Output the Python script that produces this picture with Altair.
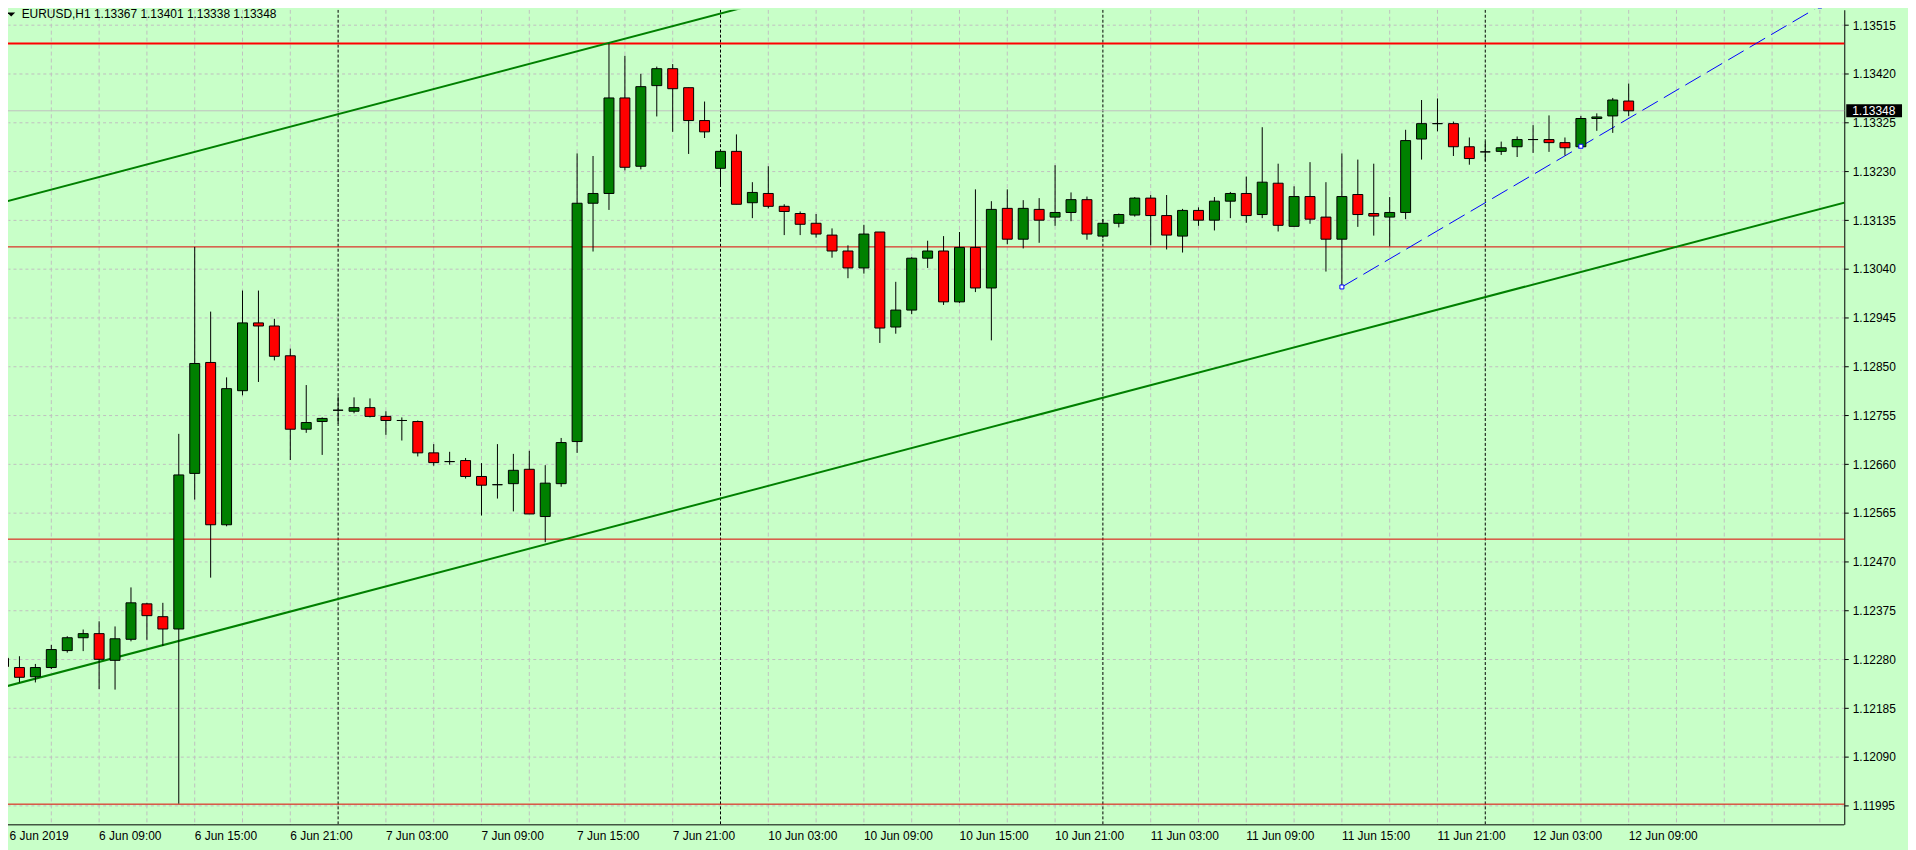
import altair as alt
import pandas as pd

# ---------------- data ----------------
header_text = "EURUSD,H1  1.13367 1.13401 1.13338 1.13348"

opens = [1.12282, 1.12264, 1.12246, 1.12264, 1.12297, 1.12322, 1.12330, 1.12278, 1.12319, 1.12388,
         1.12363, 1.12339, 1.12642, 1.12858, 1.12542, 1.12803, 1.12935, 1.12929, 1.12871, 1.12728,
         1.12743, 1.12765, 1.12763, 1.12770, 1.12753, 1.12745, 1.12743, 1.12682, 1.12665, 1.12667,
         1.12636, 1.12620, 1.12622, 1.12650, 1.12558, 1.12622, 1.12704, 1.13168, 1.13187, 1.13373,
         1.13240, 1.13397, 1.13430, 1.13393, 1.13329, 1.13236, 1.13269, 1.13169, 1.13187, 1.13162,
         1.13148, 1.13129, 1.13106, 1.13075, 1.13042, 1.13112, 1.12927, 1.12960, 1.13061, 1.13075,
         1.12976, 1.13082, 1.13003, 1.13158, 1.13098, 1.13156, 1.13141, 1.13150, 1.13175, 1.13104,
         1.13129, 1.13145, 1.13178, 1.13144, 1.13104, 1.13154, 1.13135, 1.13172, 1.13187, 1.13146,
         1.13207, 1.13123, 1.13181, 1.13141, 1.13098, 1.13185, 1.13148, 1.13141, 1.13150, 1.13293,
         1.13323, 1.13323, 1.13278, 1.13268, 1.13269, 1.13278, 1.13292, 1.13292, 1.13286, 1.13278,
         1.13333, 1.13338, 1.13367]
highs = [1.12319, 1.12286, 1.12271, 1.12308, 1.12325, 1.12338, 1.12354, 1.12344, 1.12420, 1.12390,
         1.12390, 1.12719, 1.13083, 1.12957, 1.12829, 1.12998, 1.12998, 1.12943, 1.12885, 1.12814,
         1.12751, 1.12792, 1.12790, 1.12788, 1.12763, 1.12751, 1.12745, 1.12699, 1.12684, 1.12672,
         1.12662, 1.12699, 1.12680, 1.12686, 1.12658, 1.12711, 1.13265, 1.13260, 1.13479, 1.13455,
         1.13420, 1.13434, 1.13439, 1.13393, 1.13366, 1.13269, 1.13302, 1.13209, 1.13240, 1.13166,
         1.13152, 1.13147, 1.13119, 1.13086, 1.13126, 1.13112, 1.13015, 1.13063, 1.13095, 1.13104,
         1.13112, 1.13195, 1.13172, 1.13195, 1.13174, 1.13178, 1.13242, 1.13189, 1.13181, 1.13137,
         1.13148, 1.13180, 1.13184, 1.13184, 1.13157, 1.13160, 1.13180, 1.13190, 1.13220, 1.13316,
         1.13245, 1.13201, 1.13248, 1.13209, 1.13265, 1.13253, 1.13245, 1.13180, 1.13311, 1.13369,
         1.13372, 1.13327, 1.13296, 1.13288, 1.13288, 1.13298, 1.13320, 1.13339, 1.13296, 1.13338,
         1.13343, 1.13373, 1.13401]
lows = [1.12261, 1.12235, 1.12235, 1.12261, 1.12293, 1.12296, 1.12222, 1.12221, 1.12315, 1.12318,
        1.12306, 1.11999, 1.12591, 1.12439, 1.12539, 1.12794, 1.12820, 1.12862, 1.12668, 1.12721,
        1.12678, 1.12739, 1.12759, 1.12751, 1.12717, 1.12706, 1.12675, 1.12657, 1.12659, 1.12632,
        1.12560, 1.12593, 1.12568, 1.12563, 1.12508, 1.12616, 1.12682, 1.13074, 1.13155, 1.13232,
        1.13234, 1.13337, 1.13307, 1.13264, 1.13295, 1.13201, 1.13166, 1.13139, 1.13158, 1.13106,
        1.13106, 1.13101, 1.13062, 1.13022, 1.13031, 1.12896, 1.12914, 1.12952, 1.13042, 1.12970,
        1.12974, 1.12995, 1.12901, 1.13088, 1.13080, 1.13091, 1.13124, 1.13133, 1.13097, 1.13100,
        1.13121, 1.13142, 1.13086, 1.13078, 1.13072, 1.13124, 1.13115, 1.13139, 1.13130, 1.13139,
        1.13113, 1.13123, 1.13128, 1.13035, 1.13005, 1.13122, 1.13105, 1.13084, 1.13137, 1.13253,
        1.13308, 1.13260, 1.13243, 1.13250, 1.13262, 1.13258, 1.13266, 1.13268, 1.13261, 1.13278,
        1.13309, 1.13305, 1.13338]
closes = [1.12266, 1.12245, 1.12264, 1.12299, 1.12322, 1.12330, 1.12280, 1.12320, 1.12390, 1.12365,
          1.12339, 1.12639, 1.12856, 1.12542, 1.12807, 1.12935, 1.12929, 1.12870, 1.12728, 1.12741,
          1.12749, 1.12765, 1.12770, 1.12753, 1.12745, 1.12745, 1.12682, 1.12663, 1.12665, 1.12636,
          1.12619, 1.12620, 1.12648, 1.12563, 1.12623, 1.12702, 1.13168, 1.13187, 1.13373, 1.13238,
          1.13395, 1.13430, 1.13391, 1.13329, 1.13307, 1.13269, 1.13166, 1.13189, 1.13162, 1.13152,
          1.13127, 1.13108, 1.13075, 1.13042, 1.13108, 1.12925, 1.12960, 1.13061, 1.13075, 1.12976,
          1.13082, 1.13003, 1.13156, 1.13098, 1.13158, 1.13135, 1.13150, 1.13175, 1.13108, 1.13129,
          1.13146, 1.13178, 1.13144, 1.13106, 1.13154, 1.13135, 1.13172, 1.13187, 1.13144, 1.13209,
          1.13125, 1.13181, 1.13137, 1.13098, 1.13181, 1.13146, 1.13143, 1.13150, 1.13290, 1.13323,
          1.13323, 1.13278, 1.13255, 1.13268, 1.13276, 1.13292, 1.13292, 1.13286, 1.13276, 1.13333,
          1.13336, 1.13369, 1.13348]

x_label_bars = [0, 6, 12, 18, 24, 30, 36, 42, 48, 54, 60, 66, 72, 78, 84, 90, 96, 102]
x_labels = ["6 Jun 2019", "6 Jun 09:00", "6 Jun 15:00", "6 Jun 21:00", "7 Jun 03:00",
            "7 Jun 09:00", "7 Jun 15:00", "7 Jun 21:00", "10 Jun 03:00", "10 Jun 09:00",
            "10 Jun 15:00", "10 Jun 21:00", "11 Jun 03:00", "11 Jun 09:00", "11 Jun 15:00",
            "11 Jun 21:00", "12 Jun 03:00", "12 Jun 09:00"]
y_ticks = [1.11995, 1.12090, 1.12185, 1.12280, 1.12375, 1.12470, 1.12565, 1.12660, 1.12755,
           1.12850, 1.12945, 1.13040, 1.13135, 1.13230, 1.13325, 1.13420, 1.13515]

grid_bars = list(range(0, 117, 3))
day_sep_bars = [21, 45, 69, 93]
level_main = [1.13479]
levels_other = [1.13083, 1.12514, 1.11998]
channel_lower_x = [0, 116]
channel_lower_y = [1.12226, 1.13173]
channel_upper_x = [0, 116]
channel_upper_y = [1.13170, 1.14117]
trend_x = [84, 114]
trend_y = [1.13005, 1.13552]
anchor_x = [84, 99, 114]
anchor_y = [1.13005, 1.13279, 1.13552]

# ---------------- styling ----------------
BG = "#C8FFC8"
GRID = "#C0C0C0"
FONT = "Liberation Sans"
W, H = 1844, 818
X0 = 0.28125

xscale = alt.Scale(domain=[X0, 115.53125], nice=False, zero=False, padding=0)
yscale = alt.Scale(domain=[1.119587, 1.135447], nice=False, zero=False, padding=0)
yaxis = alt.Axis(orient="right", values=y_ticks, format=".5f", title=None,
                 labelFont=FONT, labelFontSize=12, labelColor="black", labelPadding=4,
                 tickSize=4, tickColor="black", domainColor="black", labelOverlap=False,
                 labelFlush=False, grid=True, gridColor=GRID, gridDash=[3, 3], gridWidth=1)


def X(f):
    return alt.X(f, type="quantitative", scale=xscale, axis=None)


def Y(f):
    return alt.Y(f, type="quantitative", scale=yscale, axis=yaxis)


candles = pd.DataFrame({"i": list(range(len(opens))), "open": opens, "high": highs,
                        "low": lows, "close": closes})
candles["dir"] = ["up" if c >= o else "down" for o, c in zip(opens, closes)]

grid_df = pd.DataFrame({"b": [b for b in grid_bars if b not in day_sep_bars]})
sep_df = pd.DataFrame({"b": day_sep_bars})
lab_df = pd.DataFrame({"b": x_label_bars, "label": x_labels})
main_df = pd.DataFrame({"p": level_main})
other_df = pd.DataFrame({"p": levels_other})
bid_df = pd.DataFrame({"price": [closes[-1]]})
chan_df = pd.DataFrame({"x": channel_lower_x + channel_upper_x,
                        "y": channel_lower_y + channel_upper_y,
                        "line": ["lower"] * 2 + ["upper"] * 2})
trend_df = pd.DataFrame({"x": trend_x, "y": trend_y})
anchor_df = pd.DataFrame({"x": anchor_x, "y": anchor_y})
head_df = pd.DataFrame({"t": [header_text]})

layers = []

# vertical grid
layers.append(alt.Chart(grid_df).mark_rule(color=GRID, strokeDash=[4, 3], strokeWidth=1, clip=True)
              .encode(x=X("b"), y=alt.value(0), y2=alt.value(H)))
# day separators
layers.append(alt.Chart(sep_df).mark_rule(color="black", strokeDash=[3, 2], strokeWidth=1, clip=True)
              .encode(x=X("b"), y=alt.value(0), y2=alt.value(H)))
# bid line
layers.append(alt.Chart(bid_df).mark_rule(color=GRID, strokeWidth=1)
              .encode(y=Y("price"), x=alt.value(0), x2=alt.value(W)))
# red levels
layers.append(alt.Chart(other_df).mark_rule(color="#E00000", strokeWidth=1)
              .encode(y=Y("p"), x=alt.value(0), x2=alt.value(W)))
layers.append(alt.Chart(main_df).mark_rule(color="#FF0000", strokeWidth=2)
              .encode(y=Y("p"), x=alt.value(0), x2=alt.value(W)))
# green channel
layers.append(alt.Chart(chan_df).mark_line(color="#008000", strokeWidth=2, clip=True)
              .encode(x=X("x"), y=Y("y"), detail="line:N"))
# blue dashed trend
layers.append(alt.Chart(trend_df).mark_line(color="#0000FF", strokeWidth=1, strokeDash=[18, 7], clip=True)
              .encode(x=X("x"), y=Y("y")))
# wicks
layers.append(alt.Chart(candles).mark_rule(color="black", strokeWidth=1, clip=True)
              .encode(x=X("i"), y=Y("low"), y2=alt.Y2("high")))
# bodies
layers.append(alt.Chart(candles).mark_bar(size=10, stroke="black", strokeWidth=1, clip=True)
              .encode(x=X("i"), y=Y("open"), y2=alt.Y2("close"),
                      fill=alt.Fill("dir:N", scale=alt.Scale(domain=["up", "down"],
                                                              range=["#008000", "#FF0000"]),
                                    legend=None)))
# anchor squares
layers.append(alt.Chart(anchor_df).mark_square(size=16, fill="white", stroke="#0000FF",
                                               strokeWidth=1, opacity=1)
              .encode(x=X("x"), y=Y("y")))
# header
layers.append(alt.Chart(head_df).mark_point(shape="M-1,-0.5L1,-0.5L0,0.5Z", size=64, filled=True,
                                            color="black", opacity=1)
              .encode(x=alt.value(3.2), y=alt.value(4.7)))
layers.append(alt.Chart(head_df).mark_text(align="left", baseline="alphabetic", font=FONT,
                                           fontSize=12, color="black")
              .encode(x=alt.value(13.7), y=alt.value(8.7), text="t:N"))
# bottom border and x ticks / labels
layers.append(alt.Chart(head_df).mark_rule(color="black", strokeWidth=1)
              .encode(x=alt.value(0), x2=alt.value(W), y=alt.value(H + 0.5)))
layers.append(alt.Chart(lab_df).mark_rule(color="black", strokeWidth=1, clip=True)
              .encode(x=X("b"), y=alt.value(H), y2=alt.value(H + 4)))
layers.append(alt.Chart(lab_df)
              .transform_calculate(bx=f"max(datum.b, {X0 + 0.1})")
              .mark_text(align="left", baseline="alphabetic", font=FONT, fontSize=12, color="black")
              .encode(x=X("bx"), y=alt.value(H + 16), text="label:N"))
# current price box
layers.append(alt.Chart(bid_df).mark_rect(color="black", yOffset=-6.5, y2Offset=6.5)
              .encode(x=alt.value(W + 2), x2=alt.value(W + 58), y=Y("price"), y2=alt.Y2("price")))
layers.append(alt.Chart(bid_df).mark_text(align="left", baseline="middle", font=FONT,
                                          fontSize=12, color="white")
              .encode(x=alt.value(W + 8), y=Y("price"), text=alt.Text("price:Q", format=".5f")))

chart = (alt.layer(*layers)
         .properties(width=W, height=H, autosize=alt.AutoSizeParams(type="none"),
                     padding={"left": 0, "top": 0, "right": 64, "bottom": 24})
         .configure(background=BG)
         .configure_view(strokeWidth=0))

chart.save("out.html", embed_options={"renderer": "svg", "actions": False})
